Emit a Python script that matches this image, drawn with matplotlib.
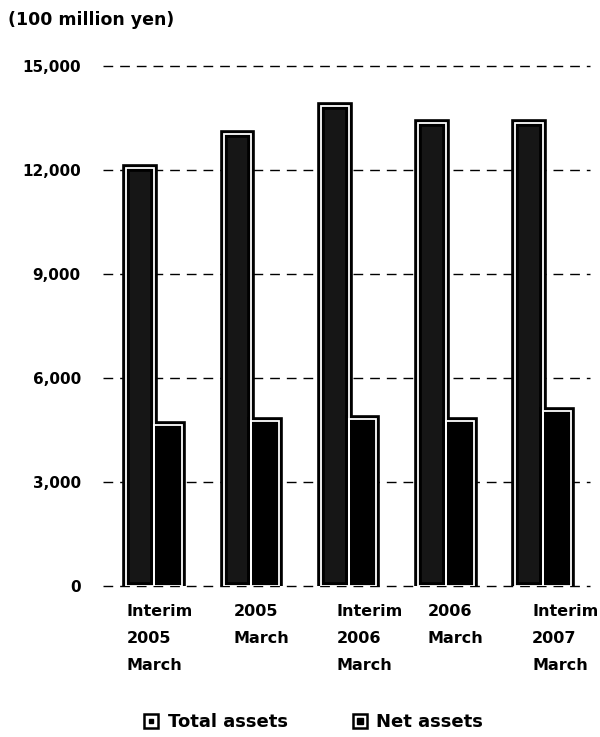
import numpy as np
import matplotlib.pyplot as plt
from matplotlib.lines import Line2D

plt.rcParams['font.family'] = ['DejaVu Sans']
plt.rcParams['font.weight'] = 'bold'

periods = ['Interim\n2005\nMarch', '2005\nMarch', 'Interim\n2006\nMarch',
           '2006\nMarch', 'Interim\n2007\nMarch']
total_assets = [12050, 13050, 13850, 13350, 13350]
net_assets = [4650, 4760, 4820, 4760, 5060]
yticks = [0, 3000, 6000, 9000, 12000, 15000]

fig = plt.figure(figsize=(6, 7.37), dpi=100)
ax = fig.add_axes([0.1717, 0.2049, 0.8117, 0.7055])

x = np.arange(len(periods))
w = 0.285


def framed_bars(xs, vals, color):
    # thick black frame, thin white line inside it, dark fill
    ax.bar(xs, vals, w, color=color, edgecolor='black', linewidth=5.5,
           joinstyle='miter', zorder=3)
    ax.bar(xs, vals, w, facecolor='none', edgecolor='white', linewidth=1.3,
           joinstyle='miter', zorder=4)


framed_bars(x - w / 2, total_assets, '#161616')
framed_bars(x + w / 2, net_assets, 'black')

ax.set_ylim(0, 15000)
ax.set_xlim(-0.524, 4.483)
ax.set_yticks(yticks)
ax.set_yticklabels([f'{v:,}' for v in yticks], fontsize=11, fontweight='bold')
ax.tick_params(axis='y', length=0, pad=16)
ax.set_xticks([])
for s in ax.spines.values():
    s.set_visible(False)
for v in yticks:
    ax.axhline(v, color='black', lw=1, ls=(0, (7, 5)), zorder=1, clip_on=False)

# category labels, left aligned under each pair of bars
shift = [-0.278, -0.185, -0.123, -0.185, -0.113]
for i, lab in enumerate(periods):
    ax.text(i + shift[i], -0.034, lab, transform=ax.get_xaxis_transform(),
            ha='left', va='top', fontsize=11.5, fontweight='bold',
            linespacing=2.0, clip_on=False)

fig.text(8 / 600, 1 - 20 / 737, '(100 million yen)', ha='left', va='center',
         fontsize=12.5, fontweight='bold')

h_total = (Line2D([], [], ls='none', marker='s', ms=9.5, mfc='white', mec='black', mew=1.8),
           Line2D([], [], ls='none', marker='s', ms=2.5, mfc='black', mec='black'))
h_net = (Line2D([], [], ls='none', marker='s', ms=9.5, mfc='white', mec='black', mew=1.8),
         Line2D([], [], ls='none', marker='s', ms=4.5, mfc='black', mec='black'))
fig.legend([h_total, h_net], ['Total assets', 'Net assets'], loc='center',
           bbox_to_anchor=(0.5225, 1 - 722 / 737), ncol=2, frameon=False,
           prop={'size': 13, 'weight': 'bold'}, handlelength=0.8,
           handletextpad=0.5, columnspacing=3.6)

fig.savefig('out.png', dpi=100)
